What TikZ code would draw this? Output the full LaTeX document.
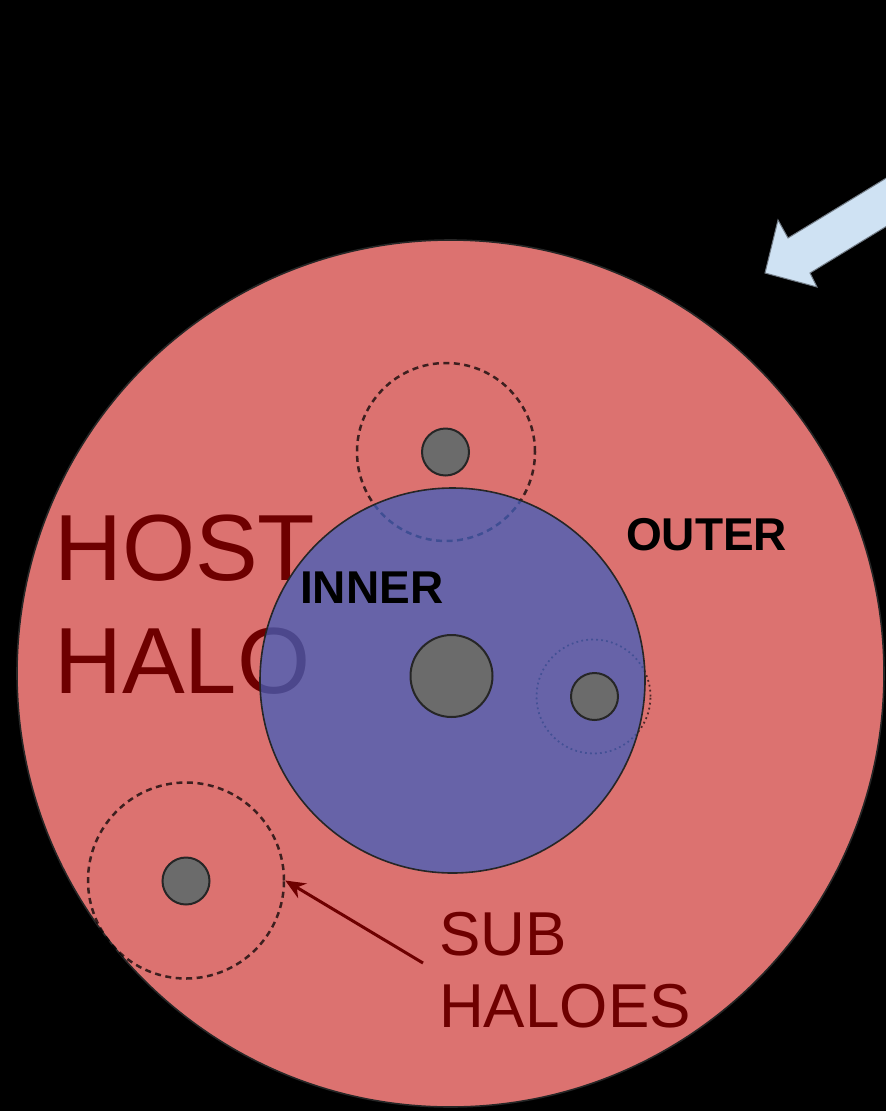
\documentclass[tikz,border=0pt]{standalone}
\usepackage{fontspec}
\setmainfont{Liberation Sans}
\usetikzlibrary{arrows.meta}
\definecolor{hostred}{RGB}{220,114,112}
\definecolor{innerblue}{RGB}{65,95,187}
\definecolor{darkred}{RGB}{110,0,0}
\definecolor{subgray}{RGB}{107,107,107}
\definecolor{arrowblue}{RGB}{207,226,243}
\begin{document}
\begin{tikzpicture}[x=1pt,y=-1pt,
  halo/.style={circle,inner sep=0pt,draw=black!85,line width=1.6pt},
  subcore/.style={circle,inner sep=0pt,fill=subgray,draw=black!85,line width=2pt},
  subdash/.style={circle,inner sep=0pt,draw=black,draw opacity=0.72,line width=2.5pt,dash pattern=on 6pt off 4.5pt},
  subdot/.style={circle,inner sep=0pt,draw=black,draw opacity=0.65,line width=1.8pt,dash pattern=on 1.8pt off 3.2pt},
  bigtext/.style={inner sep=0pt,anchor=base west,text=darkred,align=left},
  boldtext/.style={inner sep=0pt,anchor=base west,text=black,font=\fontsize{46}{50}\selectfont\bfseries}]
\fill[black] (0,0) rectangle (886,1111);
\useasboundingbox (0,0) rectangle (886,1111);
% host halo
\node[halo,fill=hostred,minimum size=867pt] (host) at (450.5,673.5) {};
\node[bigtext,font=\fontsize{94}{113}\selectfont] (hostlbl) at (54,693) {HOST\\HALO};
% subhalo dashed extents (behind inner region)
\node[subdash,minimum size=178pt] (sub1) at (446,452) {};
\node[subdot,minimum size=114pt] (sub2) at (593.5,696.5) {};
% inner region
\node[halo,fill=innerblue,fill opacity=0.75,minimum size=385pt] (inner) at (452.5,680.5) {};
\node[boldtext] (innerlbl) at (300,603) {INNER};
\node[boldtext] (outerlbl) at (626,550) {OUTER};
% cores
\node[subcore,minimum size=82pt] (core) at (451.5,676) {};
\node[subcore,minimum size=47pt] (core1) at (445.5,452) {};
\node[subcore,minimum size=47pt] (core2) at (594.5,696.5) {};
% lower-left subhalo
\node[subdash,minimum size=196pt] (sub3) at (186,880.5) {};
\node[subcore,minimum size=47pt] (core3) at (186,881) {};
% label and pointer
\node[bigtext,font=\fontsize{62}{72}\selectfont] (sublbl) at (439,1027) {SUB\\HALOES};
\coordinate (ptail) at (423,963);
\draw[darkred,line width=3pt,-{Stealth[length=20pt,width=17pt]}] (ptail) -- (sub3.east);
% incoming arrow (top right)
\draw[fill=arrowblue,draw=black!45!arrowblue,line width=1pt,line join=miter]
  (765,273) -- (778,220) -- (788,238) -- (900,169.7) -- (900,218) -- (810,273) -- (817,287) -- cycle;
\end{tikzpicture}
\end{document}
